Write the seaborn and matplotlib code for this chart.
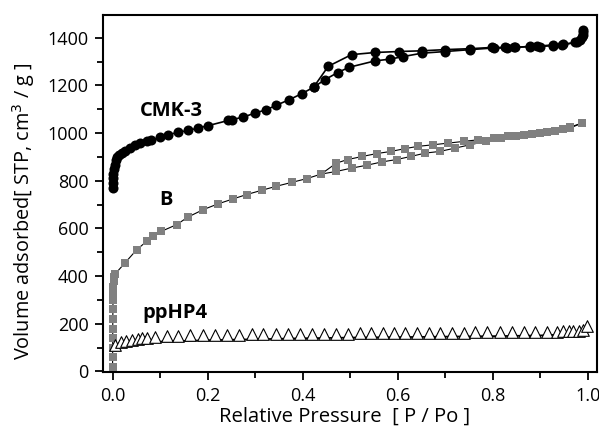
import numpy as np
import pandas as pd
import matplotlib
matplotlib.use("Agg")
import matplotlib.pyplot as plt
import seaborn as sns
from matplotlib.ticker import MultipleLocator

# ---- data ----
cmk_ads_x = [0.0005, 0.001, 0.0015, 0.002, 0.003, 0.005, 0.007, 0.010, 0.014, 0.019, 0.026,
             0.036, 0.047, 0.057, 0.072, 0.082, 0.100, 0.117, 0.138, 0.159, 0.180, 0.201,
             0.244, 0.251, 0.275, 0.300, 0.324, 0.345, 0.372, 0.398, 0.423, 0.447, 0.474,
             0.498, 0.553, 0.584, 0.612, 0.651, 0.700, 0.753, 0.802, 0.830, 0.848, 0.879,
             0.893, 0.928, 0.946, 0.974, 0.984, 0.990, 0.991]
cmk_ads_y = [770, 790, 810, 830, 850, 868, 885, 898, 910, 918, 923,
             937, 948, 958, 965, 969, 982, 993, 1003, 1011, 1021, 1031,
             1053, 1056, 1067, 1084, 1098, 1117, 1140, 1165, 1192, 1224, 1254,
             1276, 1303, 1310, 1321, 1335, 1342, 1350, 1357, 1357, 1359, 1364,
             1364, 1370, 1370, 1380, 1391, 1412, 1433]
cmk_des_x = [0.991, 0.988, 0.977, 0.949, 0.928, 0.900, 0.879, 0.844, 0.826, 0.798,
             0.753, 0.700, 0.651, 0.602, 0.553, 0.503, 0.454, 0.423]
cmk_des_y = [1425, 1405, 1380, 1373, 1367, 1363, 1363, 1359, 1359, 1359,
             1354, 1350, 1345, 1342, 1338, 1329, 1280, 1192]

b_ads_x = [0.0001, 0.0002, 0.0003, 0.0004, 0.0005, 0.0006, 0.0008, 0.001, 0.0015, 0.002,
           0.003, 0.004, 0.006, 0.026, 0.051, 0.072, 0.086, 0.103, 0.135, 0.159,
           0.191, 0.222, 0.254, 0.282, 0.314, 0.345, 0.377, 0.409, 0.439, 0.471,
           0.503, 0.535, 0.567, 0.598, 0.628, 0.658, 0.689, 0.721, 0.753, 0.785,
           0.818, 0.850, 0.882, 0.915, 0.948, 0.963, 0.988]
b_ads_y = [20, 60, 100, 140, 180, 220, 260, 300, 330, 355,
           378, 398, 410, 455, 511, 546, 567, 588, 616, 648,
           679, 703, 724, 742, 760, 777, 793, 809, 828, 839,
           853, 865, 879, 889, 902, 916, 923, 937, 951, 965,
           979, 986, 995, 1005, 1015, 1025, 1042]
b_des_x = [0.988, 0.963, 0.932, 0.900, 0.865, 0.833, 0.802, 0.770, 0.739, 0.707,
           0.675, 0.642, 0.616, 0.586, 0.556, 0.526, 0.495, 0.471, 0.439]
b_des_y = [1042, 1021, 1007, 1000, 990, 986, 979, 972, 965, 958,
           951, 944, 935, 923, 914, 902, 889, 874, 828]

pp_ads_x = [0.005, 0.017, 0.028, 0.040, 0.053, 0.063, 0.072, 0.089, 0.114, 0.138,
            0.164, 0.190, 0.215, 0.240, 0.267, 0.293, 0.317, 0.345, 0.370, 0.395,
            0.420, 0.445, 0.470, 0.495, 0.520, 0.545, 0.570, 0.593, 0.616, 0.640,
            0.665, 0.690, 0.714, 0.739, 0.763, 0.788, 0.816, 0.841, 0.865, 0.890,
            0.914, 0.935, 0.949, 0.960, 0.970, 0.981, 0.990, 0.998]
pp_ads_y = [112, 122, 128, 133, 137, 140, 142, 145, 148, 150,
            151, 152, 153, 154, 155, 156, 156, 157, 157, 158,
            158, 158, 159, 159, 160, 160, 160, 161, 161, 162,
            162, 163, 163, 163, 164, 164, 165, 165, 166, 166,
            167, 167, 168, 168, 169, 170, 172, 190]
pp_des_x = [0.0, 0.02, 0.05, 0.10, 0.20, 0.30, 0.40, 0.50, 0.60, 0.70, 0.80, 0.90, 0.95, 1.0]
pp_des_y = [92, 108, 118, 125, 131, 135, 139, 142, 144, 146, 148, 151, 155, 163]

labels = ["CMK-3", "B", "ppHP4"]
label_x = [0.124, 0.112, 0.131]
label_y = [1092, 719, 246]

xticks = [0.0, 0.2, 0.4, 0.6, 0.8, 1.0]
yticks = [0, 200, 400, 600, 800, 1000, 1200, 1400]

# ---- plot ----
sns.set_style("ticks")
plt.rcParams['font.family'] = ['Open Sans', 'DejaVu Sans']
plt.rcParams['text.color'] = 'black'
plt.rcParams['axes.labelcolor'] = 'black'
plt.rcParams['xtick.color'] = 'black'
plt.rcParams['ytick.color'] = 'black'

fig = plt.figure(figsize=(5.99, 4.30), dpi=100)
ax = fig.add_axes([0.172, 0.135, 0.825, 0.830])

# CMK-3
sns.lineplot(x=cmk_ads_x, y=cmk_ads_y, sort=False, estimator=None, color="black",
             lw=1.2, ax=ax)
sns.lineplot(x=cmk_des_x, y=cmk_des_y, sort=False, estimator=None, color="black",
             lw=1.2, ax=ax)
sns.scatterplot(x=cmk_ads_x + cmk_des_x, y=cmk_ads_y + cmk_des_y, marker="o",
                color="black", s=52, linewidth=0, ax=ax, zorder=3)

# B
sns.lineplot(x=b_ads_x, y=b_ads_y, sort=False, estimator=None, color="black",
             lw=0.8, ax=ax)
sns.lineplot(x=b_des_x, y=b_des_y, sort=False, estimator=None, color="black",
             lw=0.8, ax=ax)
sns.scatterplot(x=b_ads_x + b_des_x, y=b_ads_y + b_des_y, marker="s",
                color="#808080", s=26, linewidth=0, ax=ax, zorder=3)

# ppHP4
sns.lineplot(x=pp_des_x, y=pp_des_y, sort=False, estimator=None, color="black",
             lw=1.3, ax=ax)
sns.scatterplot(x=pp_ads_x, y=pp_ads_y, marker="^", facecolor="white",
                edgecolor="black", s=70, linewidth=0.8, ax=ax, zorder=3)

for t, tx, ty in zip(labels, label_x, label_y):
    ax.text(tx, ty, t, ha="center", va="center", fontsize=14.5, fontweight="bold",
            color="black")

ax.set_xlim(-0.02, 1.02)
ax.set_ylim(-2, 1495)
ax.set_xticks(xticks)
ax.set_xticklabels([f"{v:.1f}" for v in xticks])
ax.set_yticks(yticks)
ax.xaxis.set_minor_locator(MultipleLocator(0.1))
ax.yaxis.set_minor_locator(MultipleLocator(100))
ax.tick_params(axis="both", which="major", direction="out", length=6, width=1.3,
               labelsize=13, color="black", labelcolor="black", pad=4.5)
ax.tick_params(axis="both", which="minor", direction="out", length=4, width=1.3,
               color="black")
for side in ["top", "right", "left", "bottom"]:
    ax.spines[side].set_visible(True)
    ax.spines[side].set_linewidth(1.5)
    ax.spines[side].set_color("black")

ax.set_xlabel("Relative Pressure  [ P / Po ]", fontsize=14.6)
ax.set_ylabel("Volume adsorbed[ STP, cm$^3$ / g ]", fontsize=14.3)
ax.xaxis.set_label_coords(0.488, -0.098)
ax.yaxis.set_label_coords(-0.134, 0.45)

fig.savefig("out.png", dpi=100)
